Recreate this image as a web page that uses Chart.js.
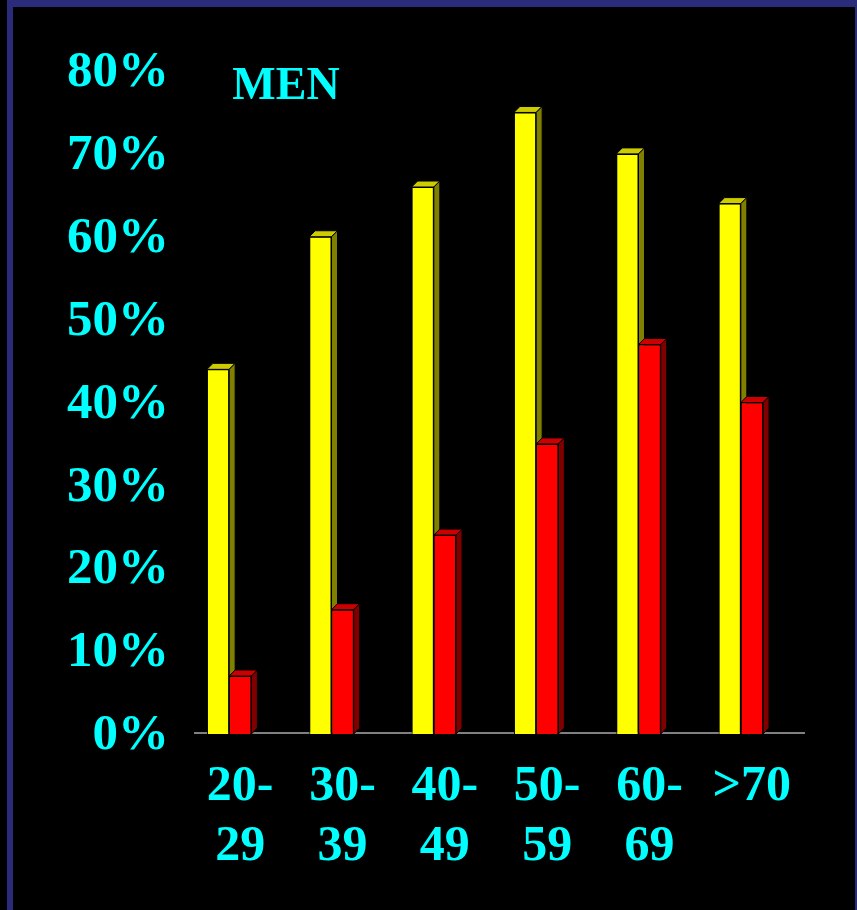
<!DOCTYPE html>
<html>
<head>
<meta charset="utf-8">
<script src="https://cdn.jsdelivr.net/npm/chart.js@4.4.1/dist/chart.umd.min.js"></script>
<style>
  html, body { margin: 0; padding: 0; background: #000; }
  #wrap { position: relative; width: 857px; height: 910px; overflow: hidden; background: #000; }
  #wrap canvas { position: absolute; left: 0; top: 0; }
  .edge { position: absolute; background: #2b2b7c; }
</style>
</head>
<body>
<div id="wrap">
  <canvas id="chart" width="857" height="910"></canvas>
  <div class="edge" style="left:7px;top:0;width:850px;height:7px"></div>
  <div class="edge" style="left:7px;top:0;width:6px;height:910px"></div>
  <div class="edge" style="left:855px;top:0;width:2px;height:910px"></div>
</div>
<script>
// Age groups (two-line axis labels)
const ageGroups = [['20-', '29'], ['30-', '39'], ['40-', '49'], ['50-', '59'], ['60-', '69'], ['>70']];
// Percentages per age group
const yellowSeries = [44, 60, 66, 75, 70, 64];
const redSeries = [7, 15, 24, 35, 47, 40];
// Value axis range and step
const yMin = 0;
const yMax = 80;
const yStep = 10;
const chartTitle = 'MEN';

const SERIF = '"Liberation Serif", "Times New Roman", serif';
const CYAN = '#00ffff';

// Face colours for the extruded bars: [front, top, side]
const faces = [
  ['#ffff00', '#cccc00', '#808000'],
  ['#ff0000', '#cc0000', '#800000']
];
const DEPTH_X = 6;
const DEPTH_Y = 6;

function poly(ctx, pts, fill) {
  ctx.beginPath();
  ctx.moveTo(pts[0][0], pts[0][1]);
  for (let i = 1; i < pts.length; i++) ctx.lineTo(pts[i][0], pts[i][1]);
  ctx.closePath();
  ctx.fillStyle = fill;
  ctx.fill();
  ctx.lineWidth = 1;
  ctx.strokeStyle = '#000';
  ctx.stroke();
}

function drawDepth(ctx, bar, colors) {
  const { x, y, base, width } = bar.getProps(['x', 'y', 'base', 'width'], true);
  const l = x - width / 2, r = x + width / 2;
  // top face
  poly(ctx, [[l, y], [l + DEPTH_X, y - DEPTH_Y], [r + DEPTH_X, y - DEPTH_Y], [r, y]], colors[1]);
  // side face
  poly(ctx, [[r, y], [r + DEPTH_X, y - DEPTH_Y], [r + DEPTH_X, base - DEPTH_Y], [r, base]], colors[2]);
}

const floorAndDepth = {
  id: 'floorAndDepth',
  beforeDatasetsDraw(chart) {
    const { ctx, chartArea } = chart;
    ctx.save();
    ctx.strokeStyle = '#808080';
    ctx.lineWidth = 2;
    ctx.beginPath();
    ctx.moveTo(chartArea.left + 16, chartArea.bottom - 1);
    ctx.lineTo(chartArea.right + 13, chartArea.bottom - 1);
    ctx.stroke();
    ctx.restore();
  },
  afterDatasetsDraw(chart) {
    const ctx = chart.ctx;
    const metaA = chart.getDatasetMeta(0);
    const metaB = chart.getDatasetMeta(1);
    ctx.save();
    for (let i = 0; i < metaA.data.length; i++) {
      drawDepth(ctx, metaA.data[i], faces[0]);
      metaB.data[i].draw(ctx);
      drawDepth(ctx, metaB.data[i], faces[1]);
    }
    ctx.restore();
  },
  afterDraw(chart) {
    const { ctx, chartArea } = chart;
    ctx.save();
    ctx.font = 'bold 46px ' + SERIF;
    ctx.fillStyle = CYAN;
    ctx.textAlign = 'center';
    ctx.textBaseline = 'middle';
    ctx.fillText(chartTitle, chartArea.left + 108, chartArea.top + 16);
    ctx.restore();
  }
};

new Chart(document.getElementById('chart'), {
  type: 'bar',
  data: {
    labels: ageGroups,
    datasets: [
      { data: yellowSeries, backgroundColor: faces[0][0], borderColor: '#000', borderWidth: 1 },
      { data: redSeries, backgroundColor: faces[1][0], borderColor: '#000', borderWidth: 1 }
    ]
  },
  options: {
    responsive: false,
    animation: false,
    devicePixelRatio: 1,
    layout: { padding: { top: 71, right: 65, bottom: 0, left: 0 } },
    datasets: { bar: { categoryPercentage: 0.434, barPercentage: 1.0 } },
    plugins: { legend: { display: false }, tooltip: { enabled: false } },
    scales: {
      x: {
        grid: { display: false, drawTicks: false },
        border: { display: false },
        ticks: {
          color: CYAN,
          font: { family: SERIF, size: 50, weight: 'bold', lineHeight: 1.2 },
          padding: 23,
          labelOffset: 11,
          maxRotation: 0,
          autoSkip: false
        },
        afterFit(scale) { scale.height = 176; }
      },
      y: {
        min: yMin,
        max: yMax,
        grid: { display: false, drawTicks: false },
        border: { display: false },
        ticks: {
          stepSize: yStep,
          color: CYAN,
          font: { family: SERIF, size: 51, weight: 'bold' },
          padding: 9,
          labelOffset: 2,
          callback: (v) => v + '%'
        },
        afterFit(scale) { scale.width = 178; }
      }
    }
  },
  plugins: [floorAndDepth]
});
</script>
</body>
</html>
